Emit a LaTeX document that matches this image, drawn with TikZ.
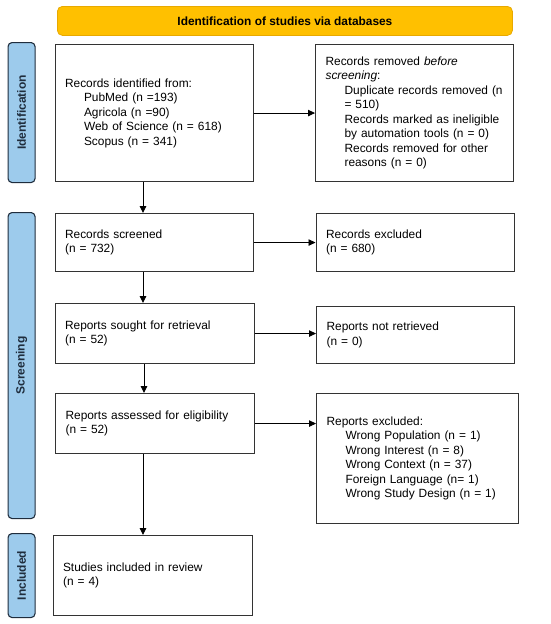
\documentclass[tikz,border=0pt]{standalone}
\usepackage{fontspec}
\setmainfont{Liberation Sans}
\usetikzlibrary{arrows.meta}
\definecolor{bannerfill}{HTML}{FFC000}
\definecolor{bannerline}{HTML}{E8A900}
\definecolor{sidefill}{HTML}{9DCBEC}
\definecolor{sideline}{HTML}{1F2D3D}
\definecolor{boxline}{HTML}{333333}
\begin{document}
\begin{tikzpicture}[x=1pt,y=-1pt,
  every node/.style={font=\fontsize{11.9}{14.5}\selectfont},
  flowbox/.style={draw=boxline,line width=1.1pt,fill=white,rectangle,inner xsep=10pt,inner ysep=0pt,align=left,anchor=north west},
  sidebar/.style={draw=sideline,fill=sidefill,line width=1.1pt,rounded corners=4pt,rectangle,anchor=north west,inner sep=0pt},
  sidelabel/.style={rotate=90,font=\fontsize{12}{14}\selectfont\bfseries,text=sideline},
  flowarrow/.style={-{Triangle[length=7pt,width=6.5pt]},line width=0.9pt,black}]
\useasboundingbox (0,0) rectangle (550,624);
% banner
\node[draw=bannerline,fill=bannerfill,line width=0.8pt,rounded corners=5pt,anchor=north west,minimum width=455pt,minimum height=29pt,inner sep=0pt,font=\fontsize{11.9}{14}\selectfont\bfseries] (banner) at (57,6) {Identification of studies via databases};
% side bars
\node[sidebar,minimum width=27pt,minimum height=140pt] (sid) at (7.5,42) {};
\node[sidelabel] (sidt) at (sid.center) {Identification};
\node[sidebar,minimum width=27pt,minimum height=306pt] (sscr) at (7.5,212) {};
\node[sidelabel] (sscrt) at (sscr.center) {Screening};
\node[sidebar,minimum width=27pt,minimum height=84pt] (sinc) at (7.5,533) {};
\node[sidelabel] (sinct) at (sinc.center) {Included};
% boxes
\node[flowbox,minimum width=198pt,minimum height=137pt,text width=178pt] (b1) at (54.5,44) {Records identified from:\\
\hspace*{19pt}PubMed (n =193)\\
\hspace*{19pt}Agricola (n =90)\\
\hspace*{19pt}Web of Science (n = 618)\\
\hspace*{19pt}Scopus (n = 341)};
\node[flowbox,minimum width=198pt,minimum height=137pt,text width=178pt] (b2) at (315,44) {Records removed \textit{before}\\
\textit{screening}:\\
\hspace*{19pt}Duplicate records removed (n\\
\hspace*{19pt}= 510)\\
\hspace*{19pt}Records marked as ineligible\\
\hspace*{19pt}by automation tools (n = 0)\\
\hspace*{19pt}Records removed for other\\
\hspace*{19pt}reasons (n = 0)};
\node[flowbox,minimum width=198pt,minimum height=58pt,text width=178pt] (b3) at (54.5,213) {Records screened\\(n = 732)};
\node[flowbox,minimum width=198pt,minimum height=58pt,text width=178pt] (b4) at (315.5,213) {Records excluded\\(n = 680)};
\node[flowbox,minimum width=199pt,minimum height=60pt,text width=179pt] (b5) at (54.5,303) {Reports sought for retrieval\\(n = 52)};
\node[flowbox,minimum width=198pt,minimum height=57pt,text width=178pt] (b6) at (316,306) {Reports not retrieved\\(n = 0)};
\node[flowbox,minimum width=199pt,minimum height=60pt,text width=179pt] (b7) at (55,393) {Reports assessed for eligibility\\(n = 52)};
\node[flowbox,minimum width=202pt,minimum height=130pt,text width=182pt] (b8) at (316,393) {Reports excluded:\\
\hspace*{19pt}Wrong Population (n = 1)\\
\hspace*{19pt}Wrong Interest (n = 8)\\
\hspace*{19pt}Wrong Context (n = 37)\\
\hspace*{19pt}Foreign Language (n= 1)\\
\hspace*{19pt}Wrong Study Design (n = 1)\\[14.5pt]};
\node[flowbox,minimum width=199pt,minimum height=80pt,text width=179pt] (b9) at (52.5,535) {Studies included in review\\(n = 4)};
% arrows
\draw[flowarrow] (b1.east) -- (b2.west |- b1.east);
\draw[flowarrow] (b3.east) -- (b4.west |- b3.east);
\draw[flowarrow] (b5.east) -- (b6.west |- b5.east);
\draw[flowarrow] (b7.east) -- (b8.west |- b7.east);
\draw[flowarrow] (b1.south -| 143,0) -- (b3.north -| 143,0);
\draw[flowarrow] (b3.south -| 143,0) -- (b5.north -| 143,0);
\draw[flowarrow] (b5.south -| 144,0) -- (b7.north -| 144,0);
\draw[flowarrow] (b7.south -| 143,0) -- (b9.north -| 143,0);
\end{tikzpicture}
\end{document}
